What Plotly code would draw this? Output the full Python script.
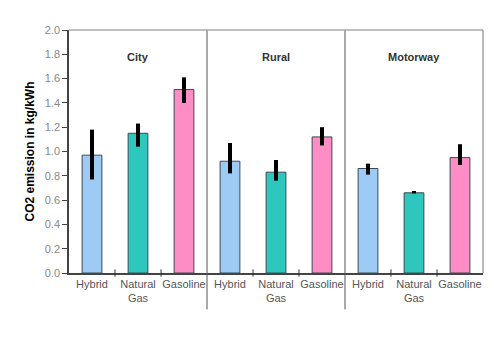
import plotly.graph_objects as go

environments = ["City", "Rural", "Motorway"]
fuels = ["Hybrid", "Natural<br>Gas", "Gasoline"]

hybrid = [0.97, 0.92, 0.86]
hybrid_err_plus = [0.21, 0.15, 0.04]
hybrid_err_minus = [0.20, 0.10, 0.05]

natural_gas = [1.15, 0.83, 0.66]
natural_gas_err_plus = [0.08, 0.10, 0.015]
natural_gas_err_minus = [0.11, 0.07, 0.005]

gasoline = [1.51, 1.12, 0.95]
gasoline_err_plus = [0.10, 0.08, 0.11]
gasoline_err_minus = [0.11, 0.07, 0.06]

colors = ["#9DCBF6", "#2EC7BE", "#FD8DC4"]

n_env = len(environments)
n_fuel = len(fuels)
FONT = "Liberation Sans, Arial, sans-serif"

fig = go.Figure()
series = [
    (hybrid, hybrid_err_plus, hybrid_err_minus),
    (natural_gas, natural_gas_err_plus, natural_gas_err_minus),
    (gasoline, gasoline_err_plus, gasoline_err_minus),
]
for fi, (vals, ep, em) in enumerate(series):
    xs = [ei * n_fuel + fi for ei in range(n_env)]
    fig.add_trace(go.Bar(
        x=xs, y=vals, width=0.43,
        marker=dict(color=colors[fi], line=dict(color="#3a4a55", width=1)),
        error_y=dict(type="data", array=ep, arrayminus=em, symmetric=False,
                     color="black", thickness=4, width=0),
        showlegend=False,
    ))

tickvals = list(range(n_env * n_fuel))
ticktext = fuels * n_env

shapes = []
# boundary ticks crossing the x axis
for ei in range(n_env):
    for fi in range(n_fuel - 1):
        xb = ei * n_fuel + fi + 0.5
        shapes.append(dict(type="line", xref="x", yref="paper", x0=xb, x1=xb,
                           y0=-0.015, y1=0.015, line=dict(color="#333333", width=1)))
# section dividers
for ei in range(1, n_env):
    xb = ei * n_fuel - 0.5
    shapes.append(dict(type="line", xref="x", yref="paper", x0=xb, x1=xb,
                       y0=-0.15, y1=1, line=dict(color="#555555", width=1)))
# top and right border
shapes.append(dict(type="line", xref="paper", yref="paper", x0=0, x1=1, y0=1, y1=1,
                   line=dict(color="#aaaaaa", width=1.5)))
shapes.append(dict(type="line", xref="paper", yref="paper", x0=1, x1=1, y0=0, y1=1,
                   line=dict(color="#777777", width=1)))

annotations = []
for ei, env in enumerate(environments):
    annotations.append(dict(x=ei * n_fuel + 1, y=1.78, xref="x", yref="y", text="<b>" + env + "</b>",
                            showarrow=False, font=dict(family=FONT, size=11, color="#333333"),
                            ))

fig.update_layout(
    width=500, height=343,
    margin=dict(l=69, r=17, t=30, b=70),
    paper_bgcolor="white", plot_bgcolor="white",
    barmode="overlay",
    shapes=shapes, annotations=annotations,
    xaxis=dict(range=[-0.5, n_env * n_fuel - 0.5], tickvals=tickvals, ticktext=ticktext,
               showline=True, linecolor="#444444", linewidth=1.5, ticks="", showgrid=False,
               zeroline=False, tickfont=dict(family=FONT, size=11, color="#555555")),
    yaxis=dict(range=[0, 2.0], dtick=0.2, tickformat=".1f", showline=True,
               linecolor="#444444", linewidth=1.5, ticks="outside", ticklen=5,
               tickcolor="#444444", showgrid=False, zeroline=False,
               tickfont=dict(family=FONT, size=11, color="#888888"),
               title=dict(text="<b>CO2 emission in kg/kWh</b>", standoff=8,
                          font=dict(family=FONT, size=12, color="black"))),
)

fig.write_html("out.html")
